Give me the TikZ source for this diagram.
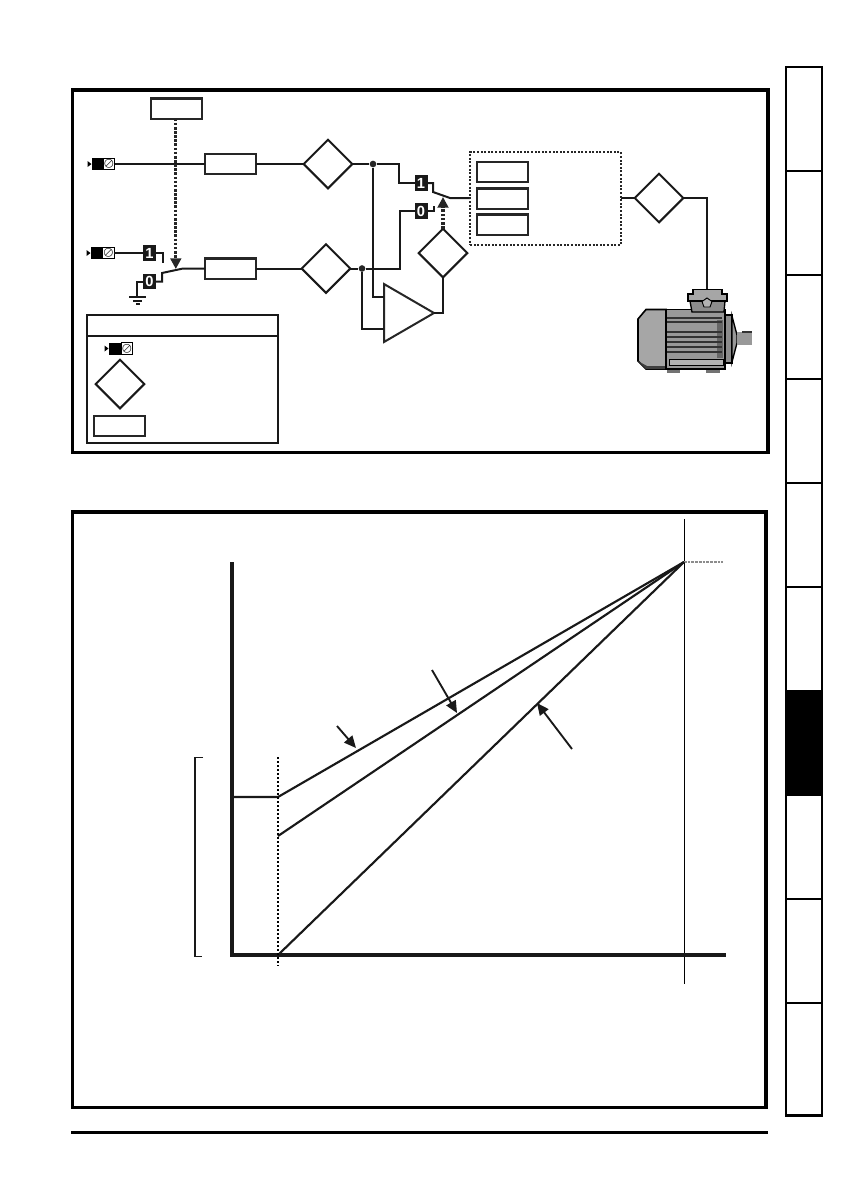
\documentclass[tikz,border=0pt]{standalone}
\usepackage{fontspec}
\setsansfont{Liberation Sans}
\usetikzlibrary{shapes.geometric,arrows.meta}
\tikzset{
lin/.style={line width=1.5pt, black!90},
frm/.style={line width=2.4pt},
sbox/.style={rectangle, draw=black!85, line width=1.7pt, fill=white, minimum width=38pt, minimum height=15.2pt, inner sep=0, outer sep=0},
dmd/.style={diamond, draw=black!90, line width=1.5pt, fill=white, aspect=1, minimum size=36.5pt, inner sep=0, outer sep=0},
numb/.style={rectangle, fill=black!90, text=white, minimum width=9.75pt, minimum height=11.5pt, inner sep=0, outer sep=0, font=\sffamily\bfseries\fontsize{11}{11}\selectfont},
termb/.style={rectangle, fill=black, minimum width=9pt, minimum height=9pt, inner sep=0, outer sep=0},
termw/.style={rectangle, draw=black, line width=.7pt, fill=white, minimum width=8.8pt, minimum height=8.6pt, inner sep=0, outer sep=0, font=\fontsize{8}{8}\selectfont\boldmath},
termt/.style={isosceles triangle, isosceles triangle stretches, fill=black, minimum width=4.5pt, minimum height=3pt, inner sep=0},
dot/.style={circle, fill=black!85, minimum size=5pt, inner sep=0},
dots/.style={line width=2.5pt, black!85, dash pattern=on 2pt off 1.1pt, -{Triangle[length=8pt,width=8pt]}},
flow/.style={line width=1.4pt, black!90, -{Triangle[length=9pt,width=8pt]}},
cur/.style={line width=1.6pt, black!90},
}
\begin{document}
\begin{tikzpicture}[x=.75pt,y=-.75pt]
\useasboundingbox (0,0) rectangle (840,1190);

\draw[frm] (72.5,90) rectangle (768,452.5);
\draw[frm] (72.5,512) rectangle (766,1107.5);
\draw[line width=2.4pt] (71,1132.5) -- (768,1132.5);

\fill[black] (786,691) rectangle (822,796);
\draw[line width=1.7pt] (786,67) -- (822,67);
\draw[line width=1.7pt] (786,66) -- (786,1115.5) -- (822,1115.5) -- (822,66);
\foreach \y in {171,275,379,483,587,691,795,899,1003}
  \draw[line width=.8pt] (786,\y) -- (822,\y);

\node[sbox] (box0) at (176.5,108.5){};
\node[sbox] (box1) at (230.5,164){};
\node[sbox] (box2) at (230.5,268.5){};
\node[dmd] (dmd0) at (328,164){};
\node[dmd] (dmd1) at (326,268.5){};
\node[dmd] (dmd2) at (443,253){};
\node[dmd] (dmd3) at (659,198){};
\node[dot] (dot0) at (373,164){};
\node[dot] (dot1) at (362,268.5){};
\node[numb] (sw0a) at (149.5,253){1};
\node[numb] (sw0b) at (149.5,281.5){0};
\node[numb] (sw1a) at (421,183){1};
\node[numb] (sw1b) at (421,211){0};
\node[termb] (tb0) at (97.5,164){};
\node[termw] (tw0) at (109,164){$\oslash$};
\node[termt] (tt0) at (89,164){};
\node[termb] (tb1) at (97,253){};
\node[termw] (tw1) at (108.5,253){$\oslash$};
\node[termt] (tt1) at (88,253){};
\node[isosceles triangle, isosceles triangle stretches, draw=black!85, line width=1.5pt, fill=white, minimum width=43.5pt, minimum height=37.5pt, inner sep=0, outer sep=0, anchor=lower side] (cmp0) at (384,313){};
\coordinate (cmp0a) at (384,297);
\coordinate (cmp0b) at (384,329);

\coordinate (sw0t) at (163,263);
\coordinate (sw0c) at (162,273);
\coordinate (sw0p) at (183,268.5);
\coordinate (gnd0) at (137,297);
\coordinate (sw1t) at (434,206);
\coordinate (sw1c) at (433,192);
\coordinate (sw1p) at (450,198);
\coordinate (dbox0w) at (470,198);
\coordinate (dbox0e) at (621,198);
\coordinate (mot0) at (707,289);
\coordinate (tip0) at (175.8,269);
\coordinate (tip1) at (443,197);

\draw[lin] (tw0) -- (box1);
\draw[lin] (box1) -- (dmd0);
\draw[lin] (dmd0) -- (dot0);
\draw[lin] (dot0) -| (399,183) -- (sw1a);
\draw[lin] (tw1) -- (sw0a);
\draw[lin] (sw0a) -| (sw0t);
\draw[lin] (sw0b.east) -| (sw0c) -- (sw0p) -- (box2);
\draw[lin] (sw0b.west) -| (gnd0);
\draw[lin] (129,297) -- (146,297);
\draw[lin] (133,300.5) -- (142,300.5);
\draw[lin] (136,303.5) -- (140,303.5);
\draw[lin] (box2) -- (dmd1);
\draw[lin] (dmd1) -- (dot1);
\draw[lin] (dot1) -- (400,268.5) |- (sw1b);
\draw[lin] (dot0) |- (cmp0a);
\draw[lin] (dot1) |- (cmp0b);
\draw[lin] (cmp0.apex) -| (dmd2.south);
\draw[lin] (sw1a) -| (sw1c) -- (sw1p) -- (dbox0w);
\draw[lin] (sw1b) -| (sw1t);
\draw[lin] (dbox0e) -- (dmd3);
\draw[lin] (dmd3) -| (mot0);
\draw[dots] (tip0|-box0.south) -- (tip0);
\draw[dots] (dmd2.north) -- (tip1);

\node[rectangle, draw=black!85, line width=1.4pt, dash pattern=on 1.5pt off 1.2pt, minimum width=113pt, minimum height=69.5pt, inner sep=0] (dbox0) at (545.5,198.5){};
\node[sbox] (box3) at (502.5,172){};
\node[sbox] (box4) at (502.5,198.5){};
\node[sbox] (box5) at (502.5,224.5){};

\draw[lin] (87,315) rectangle (278,443);
\draw[lin] (87,336) -- (278,336);
\node[termb] (tb2) at (114.5,348.5){};
\node[termw] (tw2) at (127,348.5){$\oslash$};
\node[termt] (tt2) at (106,348.5){};
\node[dmd] (dmd4) at (120,384){};
\node[sbox] (box6) at (119.5,426){};

\draw[line width=1.2pt, fill=black!45] (725,315) rectangle (732,363);
\draw[line width=1pt, fill=black!40] (732,316) -- (737,335) -- (737,343) -- (732,362) -- cycle;
\fill[black!40] (737,332) rectangle (752,345);
\draw[line width=1.2pt, black!80] (742,332) -- (752,332);
\fill[black!55] (667,368) rectangle (680,372.5);
\fill[black!55] (706,368) rectangle (720,372.5);
\draw[line width=1.2pt, fill=black!35] (638,319) -- (646,309.5) -- (666,309.5) -- (666,369) -- (646,369) -- (638,361) -- cycle;
\fill[black!75] (638,361) -- (646,369) -- (666,369) -- (666,366) -- (647,366) -- cycle;
\draw[line width=1.2pt, fill=black!40] (666,309.5) rectangle (725,369);
\fill[black!60] (717,320) rectangle (723,358);
\foreach \y in {318,322,332,337,342,347,352}
  \draw[line width=.8pt, black!80] (667,\y) -- (722,\y);
\draw[line width=.7pt, fill=black!30] (669,359) rectangle (723,365);
\draw[line width=1pt, fill=black!45] (690,301) -- (692,312) -- (724,312) -- (725,301) -- cycle;
\draw[line width=1pt, fill=black!35] (693,289.5) -- (722,289.5) -- (722,294) -- (727,294) -- (727,301) -- (688,301) -- (688,294) -- (693,294) -- cycle;
\draw[line width=.7pt, fill=black!30] (707,298) -- (712,301.5) -- (710,307) -- (704,307) -- (702,301.5) -- cycle;

\coordinate (org0) at (278,955);
\coordinate (end0) at (684,562);
\coordinate (ln0) at (278,797);
\coordinate (ln1) at (278,836);
\coordinate (yax0) at (232,797);
\draw[line width=.7pt, black] (684,519) -- (684,984);
\draw[line width=1.1pt, black!45, dash pattern=on 2pt off .8pt] (end0) -- (723,562);
\draw[line width=2.7pt, black!90] (232,562) -- (232,955) -- (726,955);
\draw[cur] (yax0) -- (ln0) -- (end0);
\draw[cur] (ln1) -- (end0);
\draw[cur] (org0) -- (end0);
\draw[line width=1.1pt, dash pattern=on 1.5pt off 1.5pt] (278,757) -- (278,966);
\draw[line width=1.3pt, black!90] (203,757.5) -- (195,757.5) -- (195,956.5) -- (202,956.5);
\draw[flow] (337,726) -- (356,748);
\draw[flow] (432,670) -- (457,713);
\draw[flow] (572,749) -- (537,703);
\end{tikzpicture}
\end{document}
